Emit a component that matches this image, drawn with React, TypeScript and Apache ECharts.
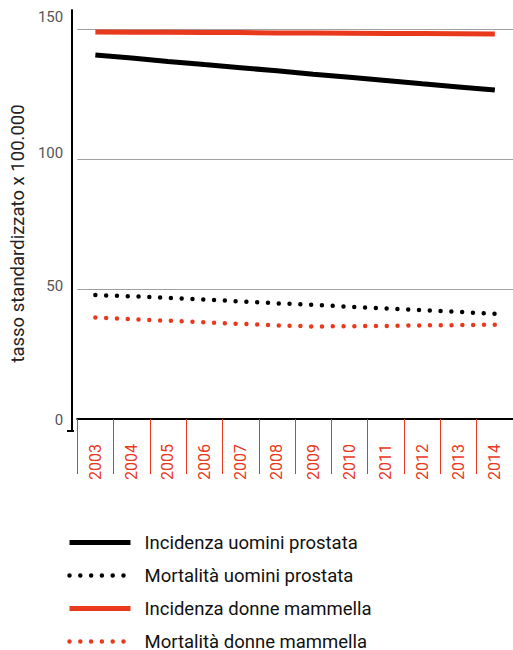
import React, { useEffect, useRef } from "react";
import * as echarts from "echarts";

const years = ["2003","2004","2005","2006","2007","2008","2009","2010","2011","2012","2013","2014"];
const incidenzaUomini = [140.0, 138.8, 137.5, 136.3, 135.1, 133.9, 132.6, 131.4, 130.2, 128.9, 127.7, 126.5];
const mortalitaUomini = [47.7, 47.2, 46.6, 46.0, 45.2, 44.5, 43.9, 43.2, 42.5, 41.9, 41.2, 40.5];
const incidenzaDonne = [148.8, 148.7, 148.7, 148.6, 148.6, 148.5, 148.5, 148.4, 148.3, 148.3, 148.2, 148.1];
const mortalitaDonne = [39.0, 38.4, 37.8, 37.2, 36.6, 36.0, 35.6, 35.7, 35.8, 36.0, 36.1, 36.3];
const yTicks = [0, 50, 100, 150];
const gridValues = [50, 100, 150];
const seriesNames = [
  "Incidenza uomini prostata",
  "Mortalità uomini prostata",
  "Incidenza donne mammella",
  "Mortalità donne mammella",
];

const RED = "#e8391d";
const FONT = "Roboto, 'DejaVu Sans', sans-serif";
const DOT: any = [0, 10.8];

export default function App() {
  const ref = useRef<HTMLDivElement>(null);
  useEffect(() => {
    if (!ref.current) return;
    const chart = echarts.init(ref.current, undefined, { renderer: "svg" });
    const dotted = (color: string) => ({
      color,
      width: 4.5,
      type: DOT,
      cap: "round" as const,
    });
    chart.setOption({
      animation: false,
      textStyle: { fontFamily: FONT },
      grid: { left: 73, right: -4, top: 10, bottom: 219 },
      legend: {
        orient: "vertical",
        left: 67,
        top: 533,
        height: 140,
        padding: 0,
        itemWidth: 61,
        itemHeight: 14,
        itemGap: 14,
        itemStyle: { opacity: 0 },
        textStyle: { fontSize: 18.5, color: "#111", padding: [0, 0, 0, 9], fontFamily: FONT },
        data: [
          { name: seriesNames[0], lineStyle: { width: 5, color: "#000", type: "solid" } },
          { name: seriesNames[1], lineStyle: { width: 4.5, color: "#000", type: DOT, cap: "round" } },
          { name: seriesNames[2], lineStyle: { width: 5, color: RED, type: "solid" } },
          { name: seriesNames[3], lineStyle: { width: 4.5, color: RED, type: DOT, cap: "round" } },
        ],
      },
      xAxis: {
        type: "category",
        data: years,
        boundaryGap: true,
        axisLine: { lineStyle: { color: "#000", width: 2 } },
        axisTick: { show: true, alignWithLabel: false, length: 55, lineStyle: { color: RED, width: 1 } },
        axisLabel: { rotate: 90, color: RED, fontSize: 16, margin: 13, fontFamily: FONT },
        splitLine: { show: false },
      },
      yAxis: {
        type: "value",
        min: -4.6,
        max: 157.3,
        offset: 5,
        name: "tasso standardizzato x 100.000",
        nameLocation: "middle",
        nameGap: 41,
        nameTextStyle: { fontSize: 18.5, color: "#222", fontFamily: FONT, padding: [0, 26, 0, 0] },
        axisLine: { show: true, lineStyle: { color: "#000", width: 2 } },
        axisTick: { show: false },
        splitLine: { show: false },
        axisLabel: {
          customValues: yTicks,
          color: "#555",
          fontSize: 15,
          margin: 9,
          fontFamily: FONT,
          formatter: (v: number) => `{t${v}|${v}}`,
          rich: {
            t0: { fontSize: 15, color: "#555", padding: [2, 0, 0, 0] },
            t50: { fontSize: 15, color: "#555", padding: [0, 0, 6, 0] },
            t100: { fontSize: 15, color: "#555", padding: [0, 0, 13, 0] },
            t150: { fontSize: 15, color: "#555", padding: [0, 0, 23, 0] },
          },
        },
      },
      graphic: [
        { type: "line", shape: { x1: 67, y1: 431, x2: 74, y2: 431 }, style: { stroke: "#000", lineWidth: 2 } },
      ],
      series: [
        {
          name: seriesNames[0],
          type: "line",
          data: incidenzaUomini,
          symbol: "none",
          lineStyle: { color: "#000", width: 5 },
          itemStyle: { color: "#000" },
          z: 3,
          markLine: {
            silent: true,
            symbol: "none",
            label: { show: false },
            lineStyle: { color: "#a0a0a0", width: 1, type: "solid" },
            data: gridValues.map((v) => ({ yAxis: v })),
            z: 1,
          },
        },
        {
          name: seriesNames[1],
          type: "line",
          data: mortalitaUomini,
          symbol: "none",
          lineStyle: dotted("#000"),
          itemStyle: { color: "#000" },
          z: 3,
        },
        {
          name: seriesNames[2],
          type: "line",
          data: incidenzaDonne,
          symbol: "none",
          lineStyle: { color: RED, width: 5 },
          itemStyle: { color: RED },
          z: 3,
        },
        {
          name: seriesNames[3],
          type: "line",
          data: mortalitaDonne,
          symbol: "none",
          lineStyle: dotted(RED),
          itemStyle: { color: RED },
          z: 3,
        },
      ],
    });
    return () => chart.dispose();
  }, []);
  return <div ref={ref} style={{ width: 513, height: 650, position: "absolute", left: 0, top: 0 }} />;
}
